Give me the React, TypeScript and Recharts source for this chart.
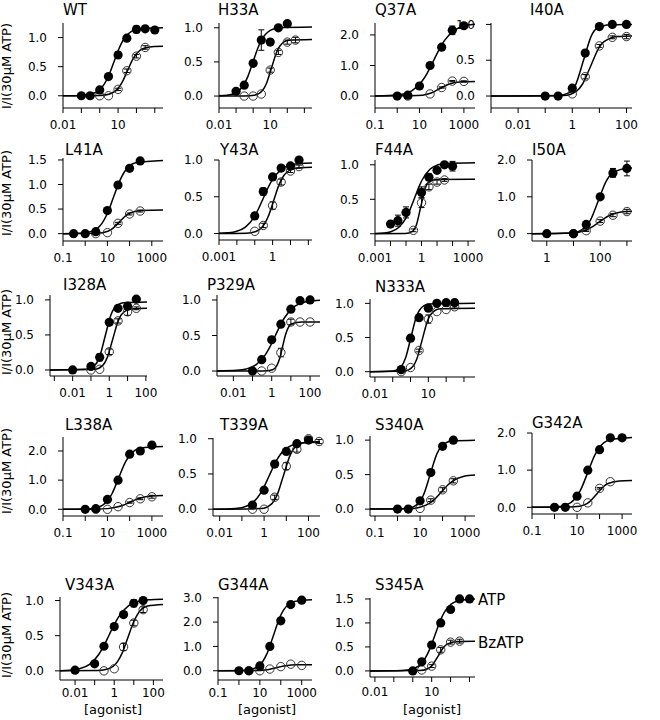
import { ComposedChart, Line, Scatter, XAxis, YAxis, ErrorBar } from 'recharts'

// [concentration µM, I/I(30µM ATP), error]
type Pt = [number, number, number]
// fitted curve: [concentration, response]
type XY = [number, number]

const wtAtp: Pt[] = [[0.1, 0, 0], [0.3, 0, 0], [1, 0.1, 0], [3, 0.33, 0.03], [10, 0.7, 0.06], [30, 0.99, 0.03], [100, 1.14, 0.06], [300, 1.15, 0.02], [1000, 1.13, 0.02]]
const wtBz: Pt[] = [[1, 0, 0], [3, 0, 0], [10, 0.11, 0.02], [30, 0.43, 0.03], [100, 0.68, 0.03], [300, 0.83, 0.03]]
const wtAtpFit: XY[] = [[0.01, 0], [0.1, 0.006], [0.6, 0.056], [1.8, 0.205], [3, 0.338], [6, 0.585], [12, 0.832], [18, 0.943], [60, 1.114], [180, 1.156], [2800, 1.17]]
const wtBzFit: XY[] = [[0.01, 0], [1, 0.005], [3.2, 0.026], [9.6, 0.12], [16, 0.222], [32, 0.425], [64, 0.628], [96, 0.713], [320, 0.824], [960, 0.845], [2800, 0.85]]

const h33Atp: Pt[] = [[0.1, 0.07, 0.02], [0.3, 0.16, 0.03], [1, 0.48, 0.04], [3, 0.82, 0.15], [10, 0.79, 0.04], [30, 1.0, 0], [100, 1.06, 0]]
const h33Bz: Pt[] = [[0.3, 0, 0], [1, 0, 0], [3, 0.03, 0], [10, 0.38, 0.03], [30, 0.64, 0.03], [100, 0.79, 0.03], [300, 0.82, 0.04]]
const h33AtpFit: XY[] = [[0.01, 0.003], [0.03, 0.011], [0.1, 0.048], [0.3, 0.177], [0.5, 0.292], [1, 0.505], [2, 0.718], [3, 0.814], [10, 0.962], [30, 0.998], [2800, 1.01]]
const h33BzFit: XY[] = [[0.01, 0], [0.3, 0.001], [1.2, 0.013], [3.6, 0.085], [6, 0.185], [12, 0.415], [24, 0.645], [36, 0.73], [120, 0.817], [2800, 0.83]]

const q37Atp: Pt[] = [[1, 0, 0], [3, 0.03, 0], [10, 0.33, 0.03], [30, 1.0, 0.04], [100, 1.6, 0.06], [300, 2.15, 0.14], [1000, 2.3, 0]]
const q37Bz: Pt[] = [[3, 0, 0], [30, 0.07, 0], [100, 0.28, 0.02], [300, 0.49, 0.02], [1000, 0.48, 0.02]]
const q37AtpFit: XY[] = [[0.1, 0], [1.35, 0.05], [4.5, 0.173], [13.5, 0.5], [22.5, 0.754], [45, 1.185], [90, 1.62], [135, 1.82], [450, 2.19], [1350, 2.32], [3160, 2.35]]
const q37BzFit: XY[] = [[0.1, 0], [8, 0.015], [24, 0.068], [40, 0.125], [80, 0.24], [160, 0.355], [240, 0.403], [800, 0.465], [3160, 0.478]]

const i40Atp: Pt[] = [[0.1, 0, 0], [0.3, 0, 0], [1, 0.11, 0], [3, 0.6, 0.03], [10, 0.97, 0.04], [30, 1.0, 0], [100, 1.0, 0]]
const i40Bz: Pt[] = [[1, 0.03, 0], [3, 0.27, 0.03], [10, 0.7, 0.02], [30, 0.82, 0.02], [100, 0.83, 0.03]]
const i40AtpFit: XY[] = [[0.001, 0], [0.26, 0.003], [0.78, 0.047], [1.3, 0.15], [2.6, 0.5], [5.2, 0.85], [7.8, 0.94], [26, 0.997], [160, 1.0]]
const i40BzFit: XY[] = [[0.001, 0], [0.48, 0.008], [1.44, 0.07], [2.4, 0.168], [4.8, 0.42], [9.6, 0.672], [14.4, 0.756], [48, 0.832], [160, 0.84]]

const l41Atp: Pt[] = [[0.3, 0, 0], [1, 0, 0], [3, 0.04, 0], [10, 0.47, 0.02], [30, 0.99, 0.02], [100, 1.33, 0.02], [300, 1.48, 0.02]]
const l41Bz: Pt[] = [[3, 0, 0], [10, 0.02, 0], [30, 0.21, 0.02], [100, 0.4, 0.02], [300, 0.46, 0.02]]
const l41AtpFit: XY[] = [[0.1, 0], [0.6, 0.008], [1.9, 0.046], [5.7, 0.21], [9.5, 0.389], [19, 0.745], [38, 1.1], [57, 1.25], [190, 1.444], [3200, 1.49]]
const l41BzFit: XY[] = [[0.1, 0], [3.5, 0.008], [10.5, 0.049], [17.5, 0.107], [35, 0.24], [70, 0.373], [105, 0.422], [350, 0.472], [3200, 0.48]]

const y43Atp: Pt[] = [[0.1, 0.24, 0.04], [0.3, 0.57, 0.05], [1, 0.77, 0.04], [3, 0.89, 0.02], [10, 0.92, 0], [30, 1.0, 0]]
const y43Bz: Pt[] = [[0.1, 0.03, 0], [0.3, 0.11, 0.03], [1, 0.38, 0.05], [3, 0.7, 0.04], [10, 0.85, 0.02], [30, 0.91, 0.02]]
const y43AtpFit: XY[] = [[0.001, 0.003], [0.003, 0.0095], [0.009, 0.028], [0.03, 0.087], [0.09, 0.22], [0.15, 0.32], [0.3, 0.48], [0.6, 0.64], [0.9, 0.72], [3, 0.87], [9, 0.93], [30, 0.95], [160, 0.958]]
const y43BzFit: XY[] = [[0.001, 0], [0.0345, 0.005], [0.115, 0.028], [0.345, 0.127], [0.575, 0.235], [1.15, 0.45], [2.3, 0.665], [3.45, 0.755], [11.5, 0.872], [34.5, 0.895], [160, 0.9]]

const f44Atp: Pt[] = [[0.01, 0.14, 0.03], [0.03, 0.19, 0.08], [0.1, 0.31, 0.08], [1, 0.6, 0.08], [3, 0.82, 0.05], [10, 0.92, 0.03], [30, 1.0, 0.02], [100, 0.98, 0.07]]
const f44Bz: Pt[] = [[0.3, 0.05, 0.02], [1, 0.45, 0.07], [3, 0.68, 0.04], [10, 0.75, 0.03], [30, 0.78, 0.02]]
const f44AtpFit: XY[] = [[0.001, 0.003], [0.0035, 0.01], [0.0105, 0.03], [0.035, 0.094], [0.105, 0.238], [0.175, 0.343], [0.35, 0.515], [0.7, 0.687], [1.05, 0.773], [3.5, 0.936], [10.5, 0.997], [35, 1.02], [2800, 1.03]]
const f44BzFit: XY[] = [[0.001, 0], [0.09, 0.002], [0.27, 0.037], [0.45, 0.119], [0.9, 0.395], [1.8, 0.672], [2.7, 0.743], [9, 0.788], [2800, 0.79]]

const i50Atp: Pt[] = [[1, 0, 0], [10, 0, 0], [30, 0.25, 0.03], [100, 1.0, 0.03], [300, 1.65, 0.12], [1000, 1.77, 0.2]]
const i50Bz: Pt[] = [[10, 0, 0], [30, 0.08, 0.02], [100, 0.34, 0.04], [300, 0.5, 0.04], [1000, 0.6, 0.06]]
const i50AtpFit: XY[] = [[0.28, 0], [8.5, 0.018], [25.5, 0.149], [42.5, 0.358], [85, 0.895], [170, 1.43], [255, 1.61], [850, 1.77], [1550, 1.785]]
const i50BzFit: XY[] = [[0.28, 0], [9, 0.019], [27, 0.087], [45, 0.162], [90, 0.31], [180, 0.458], [270, 0.52], [900, 0.6], [1550, 0.611]]

const i328Atp: Pt[] = [[0.01, 0, 0], [0.1, 0.05, 0.04], [0.3, 0.18, 0.05], [1, 0.68, 0.03], [3, 0.88, 0.02], [10, 0.91, 0.04], [30, 1.01, 0]]
const i328Bz: Pt[] = [[0.1, 0, 0], [0.3, 0.01, 0], [1, 0.26, 0.04], [3, 0.7, 0.03], [10, 0.83, 0.05], [30, 0.88, 0.02]]
const i328AtpFit: XY[] = [[0.00058, 0], [0.06, 0.01], [0.18, 0.08], [0.3, 0.194], [0.6, 0.485], [1.2, 0.776], [1.8, 0.873], [6, 0.96], [115, 0.97]]
const i328BzFit: XY[] = [[0.00058, 0], [0.155, 0.009], [0.465, 0.073], [0.775, 0.176], [1.55, 0.44], [3.1, 0.704], [4.65, 0.792], [15.5, 0.871], [115, 0.88]]

const p329Atp: Pt[] = [[0.1, 0, 0], [0.3, 0.16, 0.03], [1, 0.44, 0], [3, 0.66, 0], [10, 0.87, 0], [30, 0.99, 0], [100, 1.0, 0]]
const p329Bz: Pt[] = [[0.3, 0, 0], [1, 0.04, 0], [3, 0.26, 0.06], [10, 0.69, 0.04], [30, 0.69, 0], [100, 0.69, 0]]
const p329AtpFit: XY[] = [[0.0014, 0.001], [0.0155, 0.0099], [0.047, 0.029], [0.155, 0.091], [0.47, 0.231], [0.78, 0.333], [1.55, 0.5], [3.1, 0.667], [4.65, 0.75], [15.5, 0.909], [47, 0.968], [155, 0.99], [330, 0.995]]
const p329BzFit: XY[] = [[0.0014, 0], [0.37, 0.001], [1.11, 0.018], [1.85, 0.077], [2.6, 0.176], [3.7, 0.345], [5.2, 0.506], [7.4, 0.613], [11.1, 0.665], [37, 0.689], [330, 0.69]]

const n333Atp: Pt[] = [[0.3, 0.03, 0], [1, 0.49, 0.04], [3, 0.79, 0], [10, 0.93, 0], [30, 1.0, 0], [100, 1.01, 0], [300, 1.01, 0.04]]
const n333Bz: Pt[] = [[0.3, 0, 0], [1, 0.06, 0], [3, 0.31, 0.02], [10, 0.77, 0.06], [30, 0.88, 0], [100, 0.91, 0], [300, 0.95, 0.02]]
const n333AtpFit: XY[] = [[0.0053, 0], [0.105, 0.01], [0.315, 0.083], [0.525, 0.2], [1.05, 0.5], [2.1, 0.8], [3.15, 0.9], [10.5, 0.99], [4170, 1.0]]
const n333BzFit: XY[] = [[0.0053, 0], [0.45, 0.009], [1.35, 0.077], [2.25, 0.186], [4.5, 0.465], [9, 0.744], [13.5, 0.837], [45, 0.921], [4170, 0.93]]

const l338Atp: Pt[] = [[1, 0, 0], [3, 0.02, 0], [10, 0.34, 0], [30, 1.0, 0], [100, 1.89, 0], [300, 2.0, 0.04], [1000, 2.2, 0.1]]
const l338Bz: Pt[] = [[3, 0, 0], [10, 0, 0], [30, 0.09, 0], [100, 0.23, 0.02], [300, 0.36, 0.03], [1000, 0.43, 0.05]]
const l338AtpFit: XY[] = [[0.1, 0], [1, 0.009], [3.2, 0.053], [9.6, 0.273], [16, 0.533], [32, 1.075], [64, 1.62], [96, 1.83], [320, 2.1], [3160, 2.15]]
const l338BzFit: XY[] = [[0.1, 0], [3, 0.005], [10, 0.023], [30, 0.084], [50, 0.139], [100, 0.24], [200, 0.341], [300, 0.387], [1000, 0.457], [3160, 0.475]]

const t339Atp: Pt[] = [[0.3, 0.06, 0.03], [1, 0.27, 0.02], [3, 0.64, 0.04], [10, 0.82, 0], [30, 0.93, 0], [100, 0.98, 0]]
const t339Bz: Pt[] = [[0.3, 0, 0], [1, 0, 0], [3, 0.17, 0.03], [10, 0.61, 0.05], [30, 0.85, 0.04], [100, 1.0, 0], [300, 0.96, 0.03]]
const t339AtpFit: XY[] = [[0.005, 0], [0.05, 0.01], [0.17, 0.046], [0.51, 0.166], [0.85, 0.275], [1.7, 0.475], [3.4, 0.675], [5.1, 0.766], [17, 0.904], [51, 0.939], [330, 0.948]]
const t339BzFit: XY[] = [[0.005, 0], [0.75, 0.01], [2.25, 0.08], [3.75, 0.192], [7.5, 0.48], [15, 0.768], [22.5, 0.864], [75, 0.95], [330, 0.96]]

const s340Atp: Pt[] = [[1, 0, 0], [3, 0, 0], [10, 0.12, 0.03], [30, 0.53, 0], [100, 0.91, 0], [300, 1.0, 0.04]]
const s340Bz: Pt[] = [[10, 0.01, 0], [30, 0.13, 0.02], [100, 0.28, 0.03], [300, 0.41, 0.03]]
const s340AtpFit: XY[] = [[0.06, 0], [2.8, 0.01], [8.4, 0.083], [14, 0.2], [28, 0.5], [56, 0.8], [84, 0.9], [280, 0.99], [2750, 1.0]]
const s340BzFit: XY[] = [[0.06, 0], [3, 0.005], [9, 0.024], [27, 0.088], [45, 0.145], [90, 0.25], [180, 0.356], [270, 0.403], [900, 0.476], [2750, 0.494]]

const g342Atp: Pt[] = [[1, 0, 0], [3, 0, 0], [10, 0.3, 0], [30, 1.0, 0], [100, 1.55, 0], [300, 1.87, 0], [1000, 1.87, 0]]
const g342Bz: Pt[] = [[10, 0, 0], [30, 0.12, 0], [100, 0.51, 0.02], [300, 0.69, 0]]
const g342AtpFit: XY[] = [[0.1, 0], [1, 0.011], [3, 0.058], [9, 0.265], [15, 0.491], [30, 0.94], [60, 1.39], [90, 1.58], [300, 1.82], [2750, 1.88]]
const g342BzFit: XY[] = [[0.1, 0], [7.5, 0.012], [22.5, 0.073], [37.5, 0.161], [75, 0.36], [150, 0.559], [225, 0.633], [750, 0.708], [2750, 0.72]]

const v343Atp: Pt[] = [[0.01, 0.01, 0], [0.1, 0.1, 0], [0.3, 0.35, 0.03], [1, 0.63, 0.03], [3, 0.8, 0.04], [10, 0.96, 0.05], [30, 1.0, 0]]
const v343Bz: Pt[] = [[0.3, 0, 0], [1, 0.03, 0], [3, 0.34, 0.05], [10, 0.68, 0.04], [30, 0.87, 0.04]]
const v343AtpFit: XY[] = [[0.0017, 0.003], [0.0055, 0.01], [0.0165, 0.03], [0.055, 0.093], [0.165, 0.236], [0.275, 0.34], [0.55, 0.51], [1.1, 0.68], [1.65, 0.765], [5.5, 0.927], [16.5, 0.987], [55, 1.01], [310, 1.018]]
const v343BzFit: XY[] = [[0.0017, 0], [0.15, 0.005], [0.5, 0.029], [1.5, 0.134], [2.5, 0.248], [5, 0.475], [10, 0.702], [15, 0.797], [50, 0.921], [310, 0.943]]

const g344Atp: Pt[] = [[1, 0, 0], [3, 0, 0], [10, 0.2, 0], [30, 1.0, 0], [100, 2.05, 0], [300, 2.72, 0], [1000, 2.9, 0]]
const g344Bz: Pt[] = [[3, 0, 0], [10, 0, 0], [30, 0.07, 0], [100, 0.17, 0], [300, 0.27, 0], [1000, 0.22, 0]]
const g344AtpFit: XY[] = [[0.1, 0], [1.5, 0.012], [4.5, 0.072], [13.5, 0.371], [22.5, 0.724], [45, 1.46], [90, 2.2], [135, 2.49], [450, 2.85], [3100, 2.92]]
const g344BzFit: XY[] = [[0.1, 0], [6, 0.008], [18, 0.035], [30, 0.065], [60, 0.125], [120, 0.185], [180, 0.21], [600, 0.242], [3100, 0.249]]

const s345Atp: Pt[] = [[1, 0, 0], [3, 0.19, 0], [10, 0.54, 0], [30, 1.0, 0], [100, 1.28, 0], [300, 1.5, 0], [1000, 1.5, 0]]
const s345Bz: Pt[] = [[3, 0.02, 0], [10, 0.1, 0.03], [30, 0.44, 0.05], [100, 0.6, 0.04], [300, 0.62, 0.04]]
const s345AtpFit: XY[] = [[0.0055, 0], [0.3, 0.009], [1.5, 0.072], [4.5, 0.263], [7.5, 0.434], [15, 0.75], [30, 1.07], [45, 1.21], [150, 1.43], [450, 1.48], [1950, 1.5]]
const s345BzFit: XY[] = [[0.0055, 0], [2.2, 0.006], [6.6, 0.051], [11, 0.124], [22, 0.31], [44, 0.496], [66, 0.558], [220, 0.614], [1950, 0.62]]

// axis ticks
const t001to100 = [0.001, 0.01, 0.1, 1, 10, 100]
const t001to1000 = [0.001, 0.01, 0.1, 1, 10, 100, 1000]
const t01to100 = [0.01, 0.1, 1, 10, 100]
const t01to1000 = [0.01, 0.1, 1, 10, 100, 1000]
const t1to1000 = [0.1, 1, 10, 100, 1000]
const t1to1000b = [1, 10, 100, 1000]
const yHalf = [0, 0.5, 1]
const yHalf15 = [0, 0.5, 1, 1.5]
const yOne2 = [0, 1, 2]
const yOne3 = [0, 1, 2, 3]

const yLabel = 'I/I(30µM ATP)'

type Panel = {
  name: string
  atp: Pt[]
  bz: Pt[]
  atpFit: XY[]
  bzFit: XY[]
  xDomain: [number, number]
  xTicks: number[]
  xLabels: number[]
  yDomain: [number, number]
  yTicks: number[]
  // axis box in page pixels
  left: number
  right: number
  top: number
  bottom: number
  titleX: number
  titleY: number
  xGap?: number
}

const panels: Panel[] = [
  { name: 'WT', atp: wtAtp, bz: wtBz, atpFit: wtAtpFit, bzFit: wtBzFit, xDomain: [0.01, 2800], xTicks: t01to1000, xLabels: [0.01, 10], yDomain: [-0.21, 1.25], yTicks: yHalf, left: 63, right: 163, top: 23, bottom: 108, titleX: 63, titleY: 10 },
  { name: 'H33A', atp: h33Atp, bz: h33Bz, atpFit: h33AtpFit, bzFit: h33BzFit, xDomain: [0.01, 2800], xTicks: t01to1000, xLabels: [0.01, 10], yDomain: [-0.175, 1.07], yTicks: yHalf, left: 219, right: 312, top: 23, bottom: 108, titleX: 218, titleY: 10 },
  { name: 'Q37A', atp: q37Atp, bz: q37Bz, atpFit: q37AtpFit, bzFit: q37BzFit, xDomain: [0.1, 3160], xTicks: t1to1000, xLabels: [0.1, 10, 1000], yDomain: [-0.39, 2.39], yTicks: yOne2, left: 375, right: 475, top: 23, bottom: 108, titleX: 375, titleY: 10 },
  { name: 'I40A', atp: i40Atp, bz: i40Bz, atpFit: i40AtpFit, bzFit: i40BzFit, xDomain: [0.001, 160], xTicks: t001to100, xLabels: [0.01, 1, 100], yDomain: [-0.167, 1.02], yTicks: yHalf, left: 491, right: 632, top: 23, bottom: 108, titleX: 530, titleY: 10 },

  { name: 'L41A', atp: l41Atp, bz: l41Bz, atpFit: l41AtpFit, bzFit: l41BzFit, xDomain: [0.1, 3200], xTicks: t1to1000, xLabels: [0.1, 10, 1000], yDomain: [-0.15, 1.54], yTicks: yHalf15, left: 63, right: 163, top: 158, bottom: 241, titleX: 65, titleY: 150 },
  { name: 'Y43A', atp: y43Atp, bz: y43Bz, atpFit: y43AtpFit, bzFit: y43BzFit, xDomain: [0.001, 160], xTicks: t001to100, xLabels: [0.001, 1], yDomain: [-0.088, 1.0], yTicks: yHalf, left: 219, right: 312, top: 160, bottom: 240, titleX: 220, titleY: 150 },
  { name: 'F44A', atp: f44Atp, bz: f44Bz, atpFit: f44AtpFit, bzFit: f44BzFit, xDomain: [0.001, 2800], xTicks: t001to1000, xLabels: [0.001, 1, 1000], yDomain: [-0.105, 1.07], yTicks: yHalf, left: 375, right: 475, top: 160, bottom: 241, titleX: 375, titleY: 150 },
  { name: 'I50A', atp: i50Atp, bz: i50Bz, atpFit: i50AtpFit, bzFit: i50BzFit, xDomain: [0.28, 1550], xTicks: t1to1000b, xLabels: [1, 100], yDomain: [-0.2, 2.0], yTicks: yOne2, left: 532, right: 632, top: 160, bottom: 241, titleX: 532, titleY: 150 },

  { name: 'I328A', atp: i328Atp, bz: i328Bz, atpFit: i328AtpFit, bzFit: i328BzFit, xDomain: [0.00058, 115], xTicks: t001to100, xLabels: [0.01, 1, 100], yDomain: [-0.086, 1.07], yTicks: yHalf, left: 50, right: 147, top: 295, bottom: 376, titleX: 63, titleY: 285 },
  { name: 'P329A', atp: p329Atp, bz: p329Bz, atpFit: p329AtpFit, bzFit: p329BzFit, xDomain: [0.0014, 330], xTicks: t01to100, xLabels: [0.01, 1, 100], yDomain: [-0.07, 1.07], yTicks: yHalf, left: 217, right: 320, top: 295, bottom: 376, titleX: 207, titleY: 285 },
  { name: 'N333A', atp: n333Atp, bz: n333Bz, atpFit: n333AtpFit, bzFit: n333BzFit, xDomain: [0.0053, 4170], xTicks: t01to1000, xLabels: [0.01, 10], yDomain: [-0.078, 1.064], yTicks: yHalf, left: 370, right: 475, top: 299, bottom: 377, titleX: 375, titleY: 287 },

  { name: 'L338A', atp: l338Atp, bz: l338Bz, atpFit: l338AtpFit, bzFit: l338BzFit, xDomain: [0.1, 3160], xTicks: t1to1000, xLabels: [0.1, 10, 1000], yDomain: [-0.23, 2.48], yTicks: yOne2, left: 63, right: 163, top: 437, bottom: 516, titleX: 65, titleY: 425 },
  { name: 'T339A', atp: t339Atp, bz: t339Bz, atpFit: t339AtpFit, bzFit: t339BzFit, xDomain: [0.005, 330], xTicks: t01to100, xLabels: [0.01, 1, 100], yDomain: [-0.096, 1.01], yTicks: yHalf, left: 213, right: 320, top: 438, bottom: 516, titleX: 220, titleY: 425 },
  { name: 'S340A', atp: s340Atp, bz: s340Bz, atpFit: s340AtpFit, bzFit: s340BzFit, xDomain: [0.06, 2750], xTicks: t1to1000, xLabels: [0.1, 10, 1000], yDomain: [-0.1, 1.06], yTicks: yHalf, left: 370, right: 475, top: 436, bottom: 516, titleX: 375, titleY: 425 },
  { name: 'G342A', atp: g342Atp, bz: g342Bz, atpFit: g342AtpFit, bzFit: g342BzFit, xDomain: [0.1, 2750], xTicks: t1to1000, xLabels: [0.1, 10, 1000], yDomain: [-0.18, 2.0], yTicks: yOne2, left: 532, right: 632, top: 433, bottom: 514, titleX: 532, titleY: 423 },

  { name: 'V343A', atp: v343Atp, bz: v343Bz, atpFit: v343AtpFit, bzFit: v343BzFit, xDomain: [0.0017, 310], xTicks: t01to100, xLabels: [0.01, 1, 100], yDomain: [-0.13, 1.05], yTicks: yHalf, left: 60, right: 163, top: 597, bottom: 680, titleX: 65, titleY: 585, xGap: 3 },
  { name: 'G344A', atp: g344Atp, bz: g344Bz, atpFit: g344AtpFit, bzFit: g344BzFit, xDomain: [0.1, 3100], xTicks: t1to1000, xLabels: [0.1, 10, 1000], yDomain: [-0.38, 3.03], yTicks: yOne3, left: 218, right: 312, top: 597, bottom: 680, titleX: 218, titleY: 585, xGap: 3 },
  { name: 'S345A', atp: s345Atp, bz: s345Bz, atpFit: s345AtpFit, bzFit: s345BzFit, xDomain: [0.0055, 1950], xTicks: t01to1000, xLabels: [0.01, 10], yDomain: [-0.127, 1.52], yTicks: yHalf15, left: 370, right: 475, top: 598, bottom: 677, titleX: 375, titleY: 585, xGap: 5 },
]

const yLabelRows = [66, 193, 332, 471, 635]
const agonistLabels = [
  { x: 113, y: 710 },
  { x: 267, y: 710 },
  { x: 432, y: 710 },
]

const YW = 45
const MT = 6
const MR = 16
const XH = 30

const filledDot = (props: any) => <circle cx={props.cx} cy={props.cy} r={4.6} fill="#000" />
const openDot = (props: any) => (
  <circle cx={props.cx} cy={props.cy} r={4.2} fill="none" stroke="#333" strokeWidth={1} />
)

const toPts = (arr: Pt[]) => arr.map(([x, y, e]) => ({ x, y, e }))
const toLine = (arr: XY[]) => arr.map(([x, y]) => ({ x, y }))

function DosePanel({ p }: { p: Panel }) {
  const w = YW + (p.right - p.left) + MR
  const h = MT + (p.bottom - p.top) + XH
  const fmtX = (v: number) => (p.xLabels.some((l) => Math.abs(l - v) < l * 1e-6) ? String(v) : '')

  return (
    <>
      <div
        style={{
          position: 'absolute',
          left: p.titleX,
          top: p.titleY - 9,
          fontSize: 15,
          lineHeight: '18px',
          whiteSpace: 'nowrap',
        }}
      >
        {p.name}
      </div>
      <div style={{ position: 'absolute', left: p.left - YW, top: p.top - MT }}>
        <ComposedChart width={w} height={h} margin={{ top: MT, right: MR, bottom: 0, left: 0 }}>
          <XAxis
            dataKey="x"
            type="number"
            scale="log"
            domain={p.xDomain}
            ticks={p.xTicks}
            interval={0}
            tickFormatter={fmtX}
            height={XH}
            tickSize={5}
            tickMargin={p.xGap ?? 7}
            stroke="#000"
            tick={{ fill: '#000', fontSize: 12 }}
          />
          <YAxis
            dataKey="y"
            type="number"
            domain={p.yDomain}
            ticks={p.yTicks}
            interval={0}
            tickFormatter={(v: number) => v.toFixed(1)}
            width={YW}
            tickSize={5}
            tickMargin={11}
            stroke="#000"
            tick={{ fill: '#000', fontSize: 12 }}
          />
          <Line data={toLine(p.bzFit)} dataKey="y" type="monotone" stroke="#000" strokeWidth={1.5} dot={false} isAnimationActive={false} />
          <Line data={toLine(p.atpFit)} dataKey="y" type="monotone" stroke="#000" strokeWidth={1.5} dot={false} isAnimationActive={false} />
          <Scatter data={toPts(p.bz)} dataKey="y" shape={openDot} isAnimationActive={false}>
            <ErrorBar dataKey="e" direction="y" width={3} stroke="#000" strokeWidth={1} />
          </Scatter>
          <Scatter data={toPts(p.atp)} dataKey="y" shape={filledDot} isAnimationActive={false}>
            <ErrorBar dataKey="e" direction="y" width={3} stroke="#000" strokeWidth={1} />
          </Scatter>
        </ComposedChart>
      </div>
    </>
  )
}

export default function App() {
  return (
    <div
      style={{
        position: 'absolute',
        left: 0,
        top: 0,
        width: 660,
        height: 720,
        background: '#fff',
        fontFamily: '"DejaVu Sans", sans-serif',
        color: '#000',
      }}
    >
      {panels.map((p) => (
        <DosePanel key={p.name} p={p} />
      ))}
      {yLabelRows.map((cy) => (
        <div
          key={cy}
          style={{
            position: 'absolute',
            left: 7 - 60,
            top: cy - 8,
            width: 120,
            height: 16,
            lineHeight: '16px',
            fontSize: 13,
            textAlign: 'center',
            transform: 'rotate(-90deg)',
            whiteSpace: 'nowrap',
          }}
        >
          {yLabel}
        </div>
      ))}
      {agonistLabels.map((a) => (
        <div
          key={a.x}
          style={{
            position: 'absolute',
            left: a.x - 50,
            top: a.y - 8,
            width: 100,
            lineHeight: '16px',
            fontSize: 13,
            textAlign: 'center',
          }}
        >
          [agonist]
        </div>
      ))}
      <div style={{ position: 'absolute', left: 478, top: 591, fontSize: 15, lineHeight: '18px' }}>ATP</div>
      <div style={{ position: 'absolute', left: 478, top: 634, fontSize: 15, lineHeight: '18px' }}>BzATP</div>
    </div>
  )
}
